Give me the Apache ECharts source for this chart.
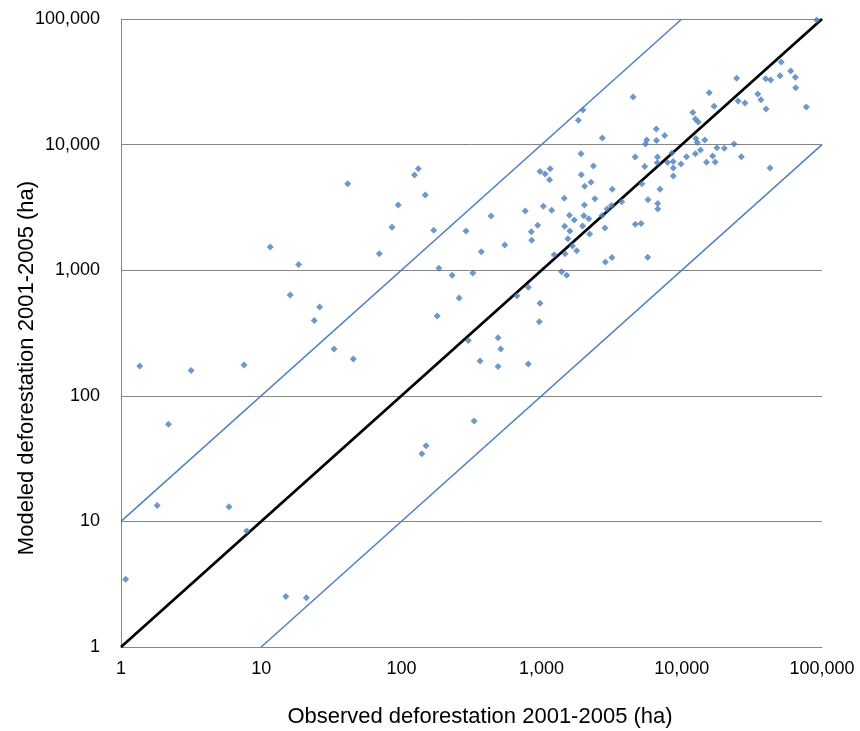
<!DOCTYPE html>
<html>
<head>
<meta charset="utf-8">
<script src="https://cdn.jsdelivr.net/npm/echarts@6/dist/echarts.min.js"></script>
<style>
html,body{margin:0;padding:0;background:#fff;}
#chart{width:860px;height:731px;}
</style>
</head>
<body>
<div id="chart"></div>
<script>
// Observed (x) and modeled (y) deforestation 2001-2005 (ha)
const observed = [
  1.08, 1.36, 1.81, 2.18, 3.16, 5.89, 7.54, 7.88, 11.6, 15.0,
  16.1, 18.5, 21.0, 23.9, 26.1, 33.1, 41.4, 45.4, 69.6, 85.7,
  95.0, 124, 132, 148, 150, 140, 170, 180, 185, 230,
  258, 289, 300, 323, 330, 364, 372, 436, 489, 511,
  489, 546, 667, 765, 804, 804, 845, 850, 938, 963,
  974, 974, 1030, 1060, 1140, 1150, 1180, 1230, 1390, 1450,
  1460, 1470, 1510, 1540, 1580, 1590, 1660, 1710, 1780, 1830,
  1970, 1910, 1920, 2030, 2250, 2020, 2000, 2170, 1960, 2200,
  2340, 2400, 2710, 2700, 2830, 2930, 3150, 3190, 3730, 2850,
  3170, 4490, 4650, 4660, 5120, 5190, 5440, 5620, 5510, 5710,
  5740, 6580, 6600, 6710, 6680, 6730, 6740, 6990, 7550, 7910,
  8510, 8680, 8700, 8700, 9870, 10800, 12000, 12500, 13100, 12600,
  12900, 14600, 12500, 13600, 15000, 15700, 16600, 17000, 17300, 17800,
  20100, 23600, 24600, 25200, 28200, 26600, 34800, 36700, 39700, 39900,
  43100, 42600, 50200, 51200, 59800, 64500, 64900, 77300, 91700
];
const modeled = [
  3.46, 173, 13.4, 59.3, 159, 13.1, 176, 8.39, 1530, 2.52,
  635, 1110, 2.47, 398, 509, 236, 4880, 196, 1350, 2200,
  3300, 5730, 6430, 3970, 40.1, 34.6, 2080, 432, 1035, 911,
  601, 2050, 275, 950, 63.0, 189, 1400, 2700, 290, 236,
  171, 1590, 627, 2960, 731, 179, 2025, 1730, 2280, 389,
  545, 6110, 3230, 5830, 5250, 6430, 3000, 1330, 973, 3740,
  2240, 1350, 912, 1780, 2740, 2050, 1560, 2510, 1430, 15600,
  18900, 8450, 5750, 4670, 5020, 3300, 2710, 2570, 2250, 1940,
  6760, 3710, 11300, 2720, 2170, 3070, 3270, 4410, 3510, 1160,
  1260, 23900, 7970, 2320, 2350, 4880, 6690, 10900, 10100, 1270,
  3640, 13300, 10800, 7970, 7180, 3390, 3070, 4410, 11800, 7200,
  8570, 7340, 6510, 5620, 7010, 8010, 18000, 16000, 15100, 11200,
  10400, 10900, 8470, 9060, 7230, 25900, 8110, 20200, 7270, 9450,
  9340, 10100, 33700, 22200, 21400, 8010, 25300, 22800, 33500, 19200,
  32700, 6510, 35400, 45500, 38600, 34300, 28400, 19900, 98200
];
// Reference lines: 1:1, 10x over, 10x under
const lineOneToOne = [[1, 1], [100000, 100000]];
const lineUpper = [[1, 10], [10000, 100000]];
const lineLower = [[10, 1], [100000, 10000]];
const tickValues = [1, 10, 100, 1000, 10000, 100000];

const points = observed.map((v, i) => [v, modeled[i]]);
const fmt = v => String(Math.round(v)).replace(/\B(?=(\d{3})+(?!\d))/g, ',');
const FONT = '"Liberation Sans", Arial, sans-serif';

const chart = echarts.init(document.getElementById('chart'), null, {renderer: 'canvas'});
chart.setOption({
  backgroundColor: '#ffffff',
  animation: false,
  grid: {left: 121, right: 38, top: 19, bottom: 84, containLabel: false},
  xAxis: {
    type: 'log', logBase: 10, min: tickValues[0], max: tickValues[tickValues.length - 1],
    interval: 1,
    axisLine: {show: true, lineStyle: {color: '#868686', width: 1}},
    axisTick: {show: false},
    splitLine: {show: false},
    axisLabel: {margin: 13, color: '#000', fontFamily: FONT, fontSize: 18, formatter: fmt}
  },
  yAxis: {
    type: 'log', logBase: 10, min: tickValues[0], max: tickValues[tickValues.length - 1],
    interval: 1,
    axisLine: {show: true, lineStyle: {color: '#868686', width: 1}},
    axisTick: {show: false},
    splitLine: {show: true, lineStyle: {color: '#868686', width: 1}},
    axisLabel: {margin: 21, color: '#000', fontFamily: FONT, fontSize: 18, formatter: fmt}
  },
  graphic: [
    {type: 'text', x: 480, y: 717, style: {text: 'Observed deforestation 2001-2005 (ha)', font: '22px ' + FONT, fill: '#000', textAlign: 'center', textVerticalAlign: 'middle'}},
    {type: 'text', x: 27, y: 368, rotation: Math.PI / 2, style: {text: 'Modeled deforestation 2001-2005 (ha)', font: '22px ' + FONT, fill: '#000', textAlign: 'center', textVerticalAlign: 'middle'}}
  ],
  series: [
    {type: 'line', data: lineUpper, symbol: 'none', silent: true, lineStyle: {color: '#4F81BD', width: 1.5}, z: 2},
    {type: 'line', data: lineLower, symbol: 'none', silent: true, lineStyle: {color: '#4F81BD', width: 1.5}, z: 2},
    {type: 'line', data: lineOneToOne, symbol: 'none', silent: true, lineStyle: {color: '#000000', width: 2.75}, z: 3},
    {type: 'scatter', data: points, symbol: 'diamond', symbolSize: 7, itemStyle: {color: '#4A7EBB'}, z: 4}
  ]
});
</script>
</body>
</html>
